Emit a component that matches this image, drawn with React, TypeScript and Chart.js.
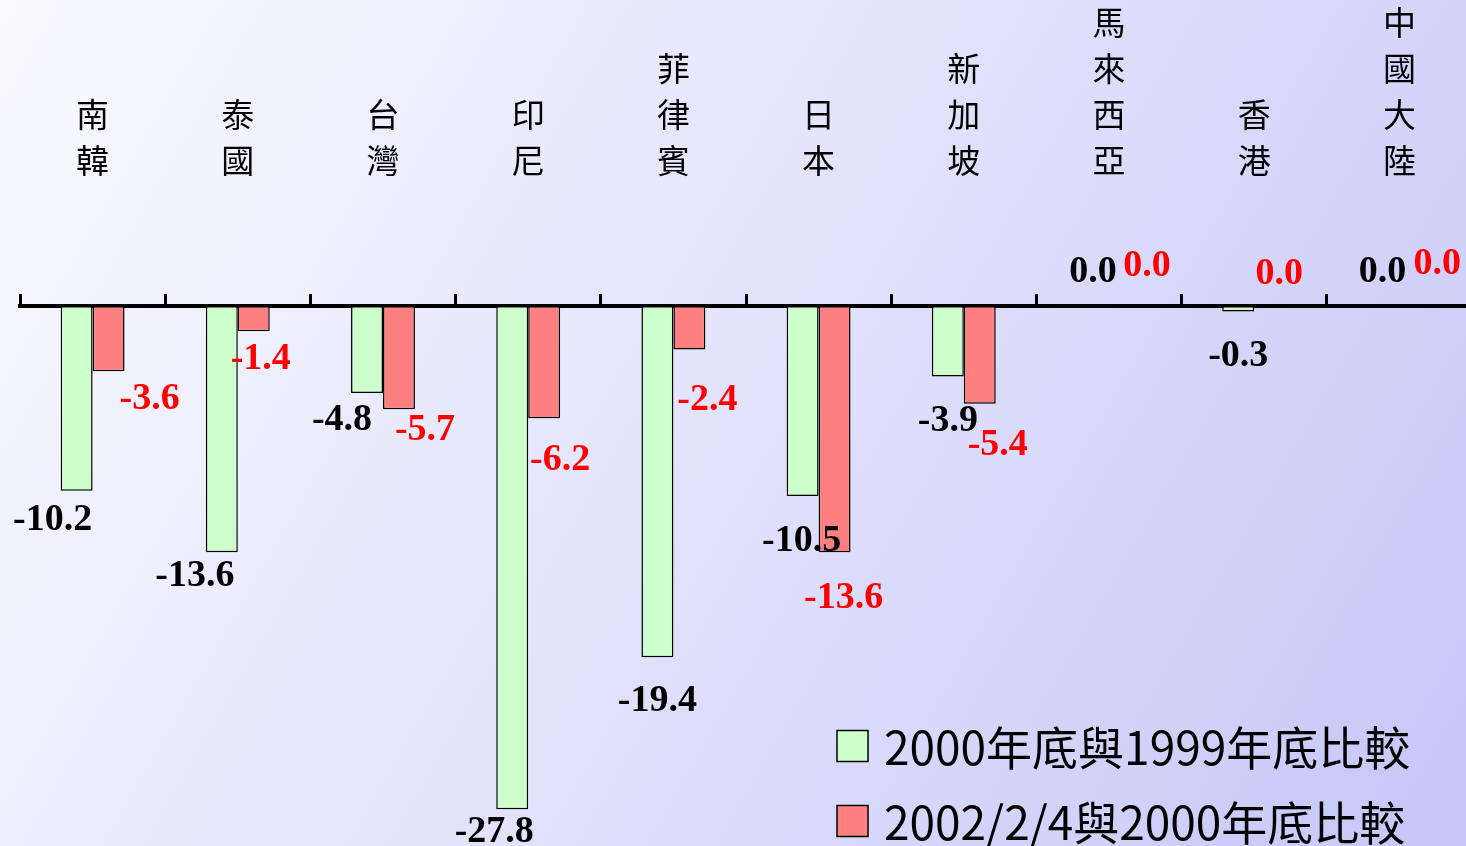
import React, { useEffect, useRef } from 'react';
import { Chart, registerables } from 'chart.js';

Chart.register(...registerables);

// Regions along the category axis
const regions = ['南韓', '泰國', '台灣', '印尼', '菲律賓', '日本', '新加坡', '馬來西亞', '香港', '中國大陸'];

// Percentage changes of the two comparison periods
const change2000vs1999 = [-10.2, -13.6, -4.8, -27.8, -19.4, -10.5, -3.9, 0.0, -0.3, 0.0];
const change2002vs2000 = [-3.6, -1.4, -5.7, -6.2, -2.4, -13.6, -5.4, 0.0, 0.0, 0.0];

const seriesNames = ['2000年底與1999年底比較', '2002/2/4與2000年底比較'];
const seriesFill = ['#CCFFCC', '#FF8080'];
const labelInk = ['#000000', '#FF0000'];

// Hand-placed nudges (px) of each value label from the end of its bar
const labelNudgeA = [[-24, 30], [-27, 24], [-25, 27], [-18, 23], [0, 44], [-1, 45], [0, 45], [0, -34], [0, 45], [-1, -34]];
const labelNudgeB = [[41, 28], [7, 28], [26, 21], [16, 42], [18, 51], [9, 46], [18, 41], [22, -40], [9, -32], [22, -42]];

const CJK = '"Noto Sans CJK TC", "Noto Sans CJK SC", "Noto Sans", sans-serif';
const SERIF = '"Liberation Serif", "Times New Roman", "DejaVu Serif", serif';

const backdrop = {
  id: 'backdrop',
  beforeDraw(chart: any) {
    const { ctx } = chart;
    const w = 1466;
    const h = chart.height;
    const g = ctx.createLinearGradient(0, 0, w, h);
    g.addColorStop(0, '#FAFAFF');
    g.addColorStop(0.5, '#E2E2FC');
    g.addColorStop(1, '#C6C6F8');
    ctx.save();
    ctx.fillStyle = g;
    ctx.fillRect(0, 0, chart.width, h);
    ctx.restore();
  },
};

// Region names written top-to-bottom, one character per line, bottom-aligned above the axis
const regionNames = {
  id: 'regionNames',
  afterDraw(chart: any) {
    const { ctx } = chart;
    const xs = chart.scales.x;
    const lastLineY = 160;
    const step = 46;
    ctx.save();
    ctx.fillStyle = '#000';
    ctx.font = `33px ${CJK}`;
    ctx.textAlign = 'center';
    ctx.textBaseline = 'middle';
    regions.forEach((name, i) => {
      const x = xs.getPixelForValue(i);
      const chars = Array.from(name);
      chars.forEach((ch, k) => {
        ctx.fillText(ch, x, lastLineY - (chars.length - 1 - k) * step);
      });
    });
    ctx.restore();
  },
};

const valueLabels = {
  id: 'valueLabels',
  afterDraw(chart: any) {
    const { ctx } = chart;
    const nudges = [labelNudgeA, labelNudgeB];
    ctx.save();
    ctx.font = `bold 38px ${SERIF}`;
    ctx.textAlign = 'center';
    ctx.textBaseline = 'middle';
    chart.data.datasets.forEach((ds: any, di: number) => {
      const meta = chart.getDatasetMeta(di);
      ctx.fillStyle = labelInk[di];
      meta.data.forEach((bar: any, i: number) => {
        const [dx, dy] = nudges[di][i];
        ctx.fillText(Number(ds.data[i]).toFixed(1), bar.x + dx, bar.y + dy);
      });
    });
    ctx.restore();
  },
};

const keyBox = {
  id: 'keyBox',
  afterDraw(chart: any) {
    const { ctx } = chart;
    const left = 837;
    const rows = [746, 821];
    ctx.save();
    seriesNames.forEach((name, i) => {
      const cy = rows[i];
      ctx.fillStyle = seriesFill[i];
      ctx.fillRect(left, cy - 15.5, 31, 31);
      ctx.lineWidth = 1.5;
      ctx.strokeStyle = '#000';
      ctx.strokeRect(left, cy - 15.5, 31, 31);
      ctx.fillStyle = '#000';
      ctx.font = `46px ${CJK}`;
      ctx.textAlign = 'left';
      ctx.textBaseline = 'middle';
      ctx.fillText(name, 884, cy + 2);
    });
    ctx.restore();
  },
};

export default function App() {
  const canvasRef = useRef<HTMLCanvasElement | null>(null);

  useEffect(() => {
    if (!canvasRef.current) return;
    const chart = new Chart(canvasRef.current, {
      type: 'bar',
      data: {
        labels: regions,
        datasets: [
          {
            label: seriesNames[0],
            data: change2000vs1999,
            backgroundColor: seriesFill[0],
            borderColor: '#000',
            borderWidth: 1.5,
            borderSkipped: false,
            categoryPercentage: 0.44,
            barPercentage: 1,
          },
          {
            label: seriesNames[1],
            data: change2002vs2000,
            backgroundColor: seriesFill[1],
            borderColor: '#000',
            borderWidth: 1.5,
            borderSkipped: false,
            categoryPercentage: 0.44,
            barPercentage: 1,
          },
        ],
      },
      options: {
        animation: false,
        responsive: true,
        maintainAspectRatio: false,
        layout: { padding: { left: 20, right: 0, top: 294, bottom: 15 } },
        plugins: {
          legend: { display: false },
          tooltip: { enabled: false },
        },
        scales: {
          x: {
            position: 'top',
            z: 1,
            grid: {
              display: true,
              drawOnChartArea: false,
              drawTicks: true,
              tickLength: 12,
              tickWidth: 3,
              tickColor: '#000',
              offset: true,
            },
            border: { display: true, color: '#000', width: 4 },
            ticks: { display: false, padding: 0 },
          },
          y: { display: false, min: -29, max: 0 },
        },
      },
      plugins: [backdrop, regionNames, valueLabels, keyBox],
    } as any);
    return () => chart.destroy();
  }, []);

  // The plot runs a few pixels past the right edge of the view, so the frame clips it
  return (
    <div style={{ position: 'fixed', left: 0, top: 0, width: 1466, height: 846, overflow: 'hidden' }}>
      <div style={{ position: 'relative', width: 1472, height: 846 }}>
        <canvas ref={canvasRef} />
      </div>
    </div>
  );
}
